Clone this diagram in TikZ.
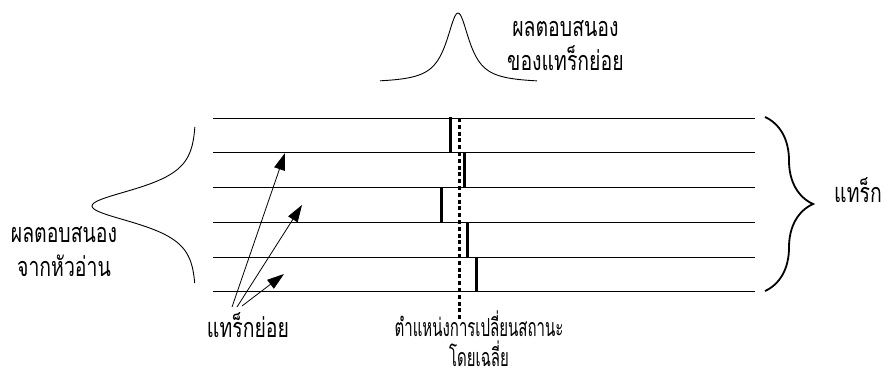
\documentclass[tikz,border=0pt]{standalone}
\usepackage{fontspec}
\newfontfamily\thaifont[Script=Thai, FakeStretch=0.72]{Loma}
\newfontfamily\thainarrow[Script=Thai, FakeStretch=0.6]{Loma}
\usetikzlibrary{arrows.meta,decorations.pathreplacing}

\begin{document}
\begin{tikzpicture}[
        x=1pt, y=-1pt,
        track/.style={
            draw=black,
            line width=0.9pt
        },
        shiftmark/.style={
            draw=black,
            line width=3pt
        },
        curve/.style={
            draw=black,
            line width=0.9pt
        },
        thailabel/.style={
            font=\thaifont\fontsize{27}{34}\selectfont,
            align=center,
            inner sep=0pt
        },
        pointer/.style={
            -{Triangle[length=17pt,width=11pt]},
            line width=0.8pt
        }
    ]
        \useasboundingbox (0,0) rectangle (884,378);

        \draw[track] (213,118) -- (755,118);
        \draw[track] (213,152) -- (755,152);
        \draw[track] (213,187) -- (755,187);
        \draw[track] (213,222) -- (755,222);
        \draw[track] (213,257) -- (755,257);
        \draw[track] (213,291) -- (755,291);

        \draw[shiftmark] (450,117) -- (450,152);
        \draw[shiftmark] (464,152) -- (464,187);
        \draw[shiftmark] (441,187) -- (441,222);
        \draw[shiftmark] (467,222) -- (467,257);
        \draw[shiftmark] (476,257) -- (476,291);

        \draw[line width=3pt, dash pattern=on 4pt off 2.8pt] (459,118) -- (459,321);

        \draw[curve] plot[domain=380:537, samples=120, smooth] (\x, {83-70/(1+((\x-458)/14)^2)});
        \draw[curve] plot[domain=127:283, samples=120, smooth] ({196-104/cosh((\x-206)/15.2)}, \x);

        \draw[decorate, decoration={brace, amplitude=48pt}, line width=1.8pt] (765,117) -- (765,291);

        \node[thailabel, anchor=west] (subresp) at (507,46) {ผลตอบสนอง\\ของแทร็กย่อย};
        \node[thailabel] (headresp) at (64,252) {ผลตอบสนอง\\จากหัวอ่าน};
        \node[thailabel] (track) at (858,190) {แทร็ก};
        \node[thailabel] (sub) at (248,325) {แทร็กย่อย};
        \node[thailabel, font=\thainarrow\fontsize{25}{30}\selectfont] (avgpos) at (479,339) {ตำแหน่งการเปลี่ยนสถานะ\\โดยเฉลี่ย};

        \coordinate (foot1) at (232,307);
        \coordinate (foot2) at (237,307);
        \coordinate (foot3) at (242,306);
        \coordinate (tip1) at (285,153);
        \coordinate (tip2) at (302,205);
        \coordinate (tip3) at (284,274);

        \draw[pointer] (foot1) -- (tip1);
        \draw[pointer] (foot2) -- (tip2);
        \draw[pointer] (foot3) -- (tip3);
    \end{tikzpicture}
\end{document}
